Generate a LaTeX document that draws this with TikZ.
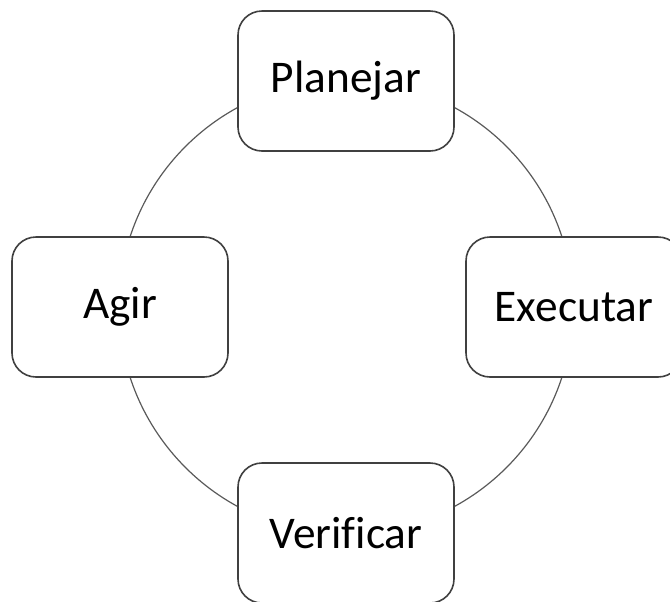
\documentclass[tikz,border=0pt]{standalone}
\usepackage{fontspec}
\setmainfont{Carlito}[Ligatures=NoCommon]
\usepackage{tikz}
\usetikzlibrary{positioning}
\tikzstyle{phase}=[rectangle,draw=black!75,fill=white,line width=1.2pt,minimum width=162pt,minimum height=105pt,rounded corners=18pt,font=\fontsize{34}{40}\selectfont]
\tikzstyle{cycle}=[draw=black!65,line width=0.9pt]

\begin{document}
\begin{tikzpicture}[x=0.75pt,y=-0.75pt,inner sep=1mm]
\def \rad {227};

\useasboundingbox (0,0) rectangle (670,601);
\clip (0,0) rectangle (670,601);

\coordinate (mid) at (346,307);
\draw[cycle] (mid) circle[radius=\rad];

\node[phase] (plan) at (346,81) {Planejar};
\node[phase] (exec) at (574,307) {Executar};
\node[phase] (verif) at (346,533) {Verificar};
\node[phase] (agir) at (120,307) {Agir};

\end{tikzpicture}
\end{document}
